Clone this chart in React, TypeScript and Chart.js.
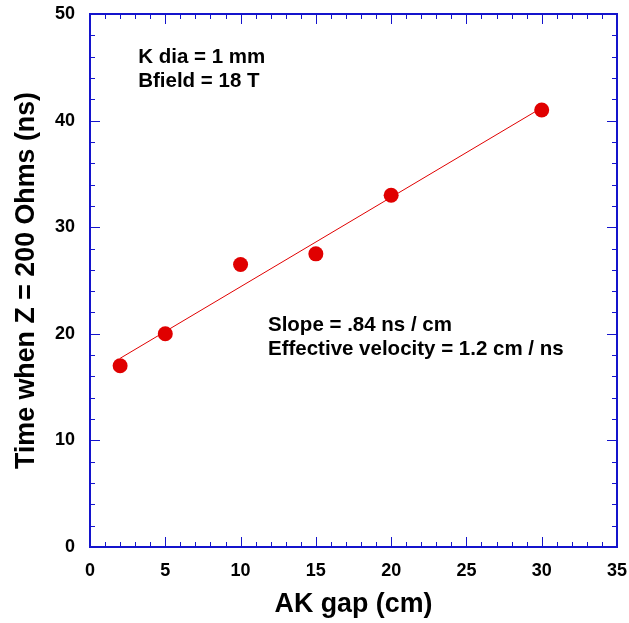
import React, { useEffect, useRef } from "react";
import { Chart, registerables } from "chart.js";

Chart.register(...registerables);

// ---- Data ----
const akGap: number[] = [2, 5, 10, 15, 20, 30];
const timeNs: number[] = [17, 20, 26.5, 27.5, 33, 41];
const fitX: number[] = [2, 30];
const fitY: number[] = [17.7, 41.2];

const xMin = 0, xMax = 35, xMajorStep = 5, xMinorStep = 1;
const yMin = 0, yMax = 50, yMajorStep = 10, yMinorStep = 2;

const xTitle = "AK gap (cm)";
const yTitle = "Time when Z = 200 Ohms (ns)";
const noteTopLeft: string[] = ["K dia = 1 mm", "Bfield = 18 T"];
const noteTopLeftAt: [number, number] = [3.2, 45.4];
const noteMiddle: string[] = ["Slope = .84 ns / cm", "Effective velocity = 1.2 cm / ns"];
const noteMiddleAt: [number, number] = [11.82, 20.26];

const FONT = "'Liberation Sans', Arial, Helvetica, sans-serif";
const AXIS_COLOR = "#1414cc";
const RED = "#e00000";

const framePlugin = {
  id: "frame",
  afterDraw(chart: any) {
    const { ctx, chartArea } = chart;
    const { left, right, top, bottom } = chartArea;
    const xs = chart.scales.x;
    const ys = chart.scales.y;
    ctx.save();
    ctx.strokeStyle = AXIS_COLOR;
    ctx.lineWidth = 1;
    ctx.beginPath();
    for (let v = xMin; v <= xMax + 1e-9; v += xMinorStep) {
      const px = Math.round(xs.getPixelForValue(v)) + 0.5;
      const major = Math.abs(v / xMajorStep - Math.round(v / xMajorStep)) < 1e-9;
      const len = major ? 10 : 5;
      ctx.moveTo(px, bottom);
      ctx.lineTo(px, bottom - len);
      ctx.moveTo(px, top);
      ctx.lineTo(px, top + len);
    }
    for (let v = yMin; v <= yMax + 1e-9; v += yMinorStep) {
      const py = Math.round(ys.getPixelForValue(v)) + 0.5;
      const major = Math.abs(v / yMajorStep - Math.round(v / yMajorStep)) < 1e-9;
      const len = major ? 10 : 5;
      ctx.moveTo(left, py);
      ctx.lineTo(left + len, py);
      ctx.moveTo(right, py);
      ctx.lineTo(right - len, py);
    }
    ctx.stroke();
    ctx.lineWidth = 2;
    ctx.strokeRect(left, top, right - left, bottom - top);
    ctx.fillStyle = "#000";
    ctx.font = `bold 20.5px ${FONT}`;
    ctx.textAlign = "left";
    ctx.textBaseline = "alphabetic";
    const drawNote = (lines: string[], at: [number, number]) => {
      const x0 = xs.getPixelForValue(at[0]);
      const y0 = ys.getPixelForValue(at[1]);
      lines.forEach((t, i) => ctx.fillText(t, x0, y0 + i * 23.5));
    };
    drawNote(noteTopLeft, noteTopLeftAt);
    drawNote(noteMiddle, noteMiddleAt);
    ctx.restore();
  },
};

const zeroPad = (scale: any) => {
  scale.paddingLeft = 0;
  scale.paddingRight = 0;
  scale.paddingTop = 0;
  scale.paddingBottom = 0;
};

export default function App() {
  const ref = useRef<HTMLCanvasElement | null>(null);
  useEffect(() => {
    if (!ref.current) return;
    const chart = new Chart(ref.current, {
      type: "scatter",
      data: {
        datasets: [
          {
            label: "data",
            data: akGap.map((x, i) => ({ x, y: timeNs[i] })),
            backgroundColor: RED,
            borderColor: RED,
            borderWidth: 0,
            pointRadius: 7.5,
            pointHoverRadius: 7.5,
            showLine: false,
          },
          {
            label: "fit",
            data: fitX.map((x, i) => ({ x, y: fitY[i] })),
            borderColor: RED,
            backgroundColor: RED,
            borderWidth: 1,
            pointRadius: 0,
            showLine: true,
          },
        ],
      },
      options: {
        animation: false,
        responsive: false,
        events: [],
        layout: { padding: { left: 0, top: 14, right: 12, bottom: 0 } },
        plugins: { legend: { display: false }, tooltip: { enabled: false } },
        scales: {
          x: {
            type: "linear",
            min: xMin,
            max: xMax,
            grid: { display: false, drawTicks: false },
            border: { display: false },
            ticks: {
              stepSize: xMajorStep,
              color: "#000",
              padding: 13,
              maxRotation: 0,
              font: { family: FONT, size: 18, weight: "bold" },
            },
            title: {
              display: true,
              text: xTitle,
              color: "#000",
              padding: { top: 0, bottom: 2 },
              font: { family: FONT, size: 26.8, weight: "bold" },
            },
            afterFit(scale: any) {
              scale.height = 76;
              zeroPad(scale);
            },
          },
          y: {
            type: "linear",
            min: yMin,
            max: yMax,
            grid: { display: false, drawTicks: false },
            border: { display: false },
            ticks: {
              stepSize: yMajorStep,
              color: "#000",
              padding: 15,
              font: { family: FONT, size: 18, weight: "bold" },
            },
            title: {
              display: true,
              text: yTitle,
              color: "#000",
              padding: { top: 11, bottom: 0 },
              font: { family: FONT, size: 26.8, weight: "bold" },
            },
            afterFit(scale: any) {
              scale.width = 90;
              zeroPad(scale);
            },
          },
        },
      },
      plugins: [framePlugin],
    });
    return () => chart.destroy();
  }, []);
  return (
    <div style={{ position: "absolute", left: 0, top: 0, width: 629, height: 623, background: "#fff" }}>
      <canvas ref={ref} width={629} height={623} style={{ display: "block" }} />
    </div>
  );
}
